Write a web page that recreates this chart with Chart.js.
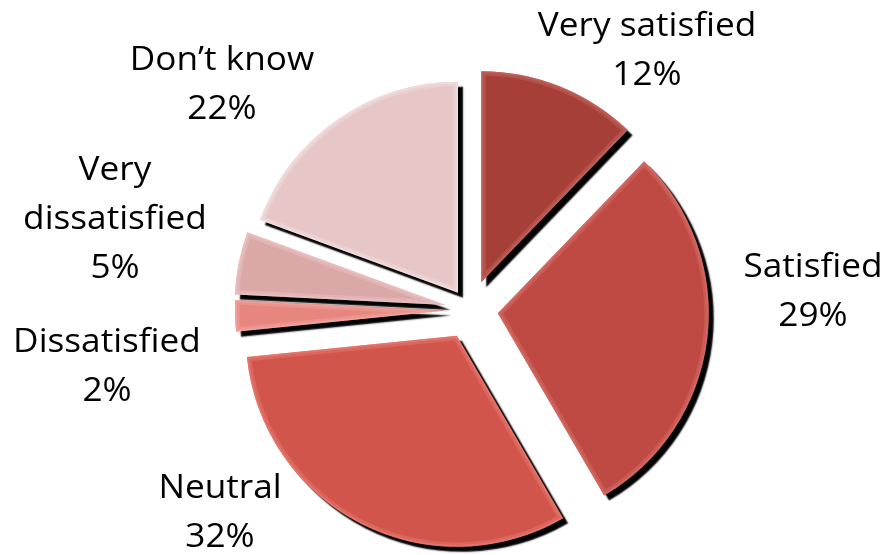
<!DOCTYPE html>
<html>
<head>
<meta charset="utf-8">
<script src="https://cdn.jsdelivr.net/npm/chart.js@4"></script>
<style>
  html, body { margin: 0; padding: 0; background: #fff; }
  #wrap { width: 889px; height: 555px; }
</style>
</head>
<body>
<div id="wrap"><canvas id="pieChart" width="889" height="555"></canvas></div>
<script>
// survey answers, clockwise from 12 o'clock
const categories = ['Very satisfied', 'Satisfied', 'Neutral', 'Dissatisfied', 'Very dissatisfied', "Don\u2019t know"];
// slice sizes as drawn in the picture (in %)
const sliceValues = [12.2, 29.4, 31.8, 2.4, 4.8, 19.4];
// percentages printed on the labels
const labelPercents = [12, 29, 32, 2, 5, 22];
// label text lines (category name may wrap)
const labelLines = [
    ['Very satisfied'],
    ['Satisfied'],
    ['Neutral'],
    ['Dissatisfied'],
    ['Very', 'dissatisfied'],
    ['Don\u2019t know']
];

const sliceColors = ['#a73f39', '#bf4a44', '#d2554c', '#e6867f', '#dba8a8', '#e6c6c6'];
const edgeColors = ['#d27a74', '#e2817b', '#f08e86', '#f8b6b0', '#f2d0d0', '#faeaea'];
// how far each slice is pulled out from the centre
const explode = [30, 28, 29, 24, 25, 21];
// where each label block is centred (x) and its first baseline (y)
const labelPos = [[647, 36], [813, 277], [220, 498], [107, 352], [115, 180], [222, 70]];
const lineGap = 49;

// draws the exploded slices with a black drop shadow and a light bevel
const slicePlugin = {
    id: 'explodedSlices',
    beforeDatasetsDraw(chart) {
        const ctx = chart.ctx;
        const meta = chart.getDatasetMeta(0);
        meta.data.forEach((arc, i) => {
            const mid = (arc.startAngle + arc.endAngle) / 2;
            const dx = Math.cos(mid) * explode[i];
            const dy = Math.sin(mid) * explode[i];
            ctx.save();
            ctx.translate(dx, dy);
            ctx.shadowColor = '#000';
            ctx.shadowBlur = 1.5;
            ctx.shadowOffsetX = 5;
            ctx.shadowOffsetY = 5;
            arc.draw(ctx);
            ctx.restore();

            // bevel: lighter band just inside the slice edge
            ctx.save();
            ctx.translate(dx, dy);
            ctx.beginPath();
            ctx.moveTo(arc.x, arc.y);
            ctx.arc(arc.x, arc.y, arc.outerRadius, arc.startAngle, arc.endAngle);
            ctx.closePath();
            ctx.clip();
            ctx.lineJoin = 'miter';
            ctx.strokeStyle = edgeColors[i];
            ctx.globalAlpha = 0.3;
            ctx.lineWidth = 9;
            ctx.stroke();
            ctx.globalAlpha = 0.35;
            ctx.lineWidth = 4;
            ctx.stroke();
            ctx.restore();
        });
        return false;
    }
};

const labelPlugin = {
    id: 'sliceLabels',
    afterDraw(chart) {
        const ctx = chart.ctx;
        ctx.save();
        ctx.fillStyle = '#000';
        ctx.textAlign = 'center';
        ctx.textBaseline = 'alphabetic';
        ctx.font = '32px "Open Sans"';
        labelLines.forEach((lines, i) => {
            const [x, y] = labelPos[i];
            const all = lines.concat([labelPercents[i] + '%']);
            all.forEach((t, k) => {
                ctx.save();
                ctx.translate(x, y + k * lineGap);
                ctx.scale(1.1, 1.0);
                ctx.fillText(t, 0, 0);
                ctx.restore();
            });
        });
        ctx.restore();
    }
};

const ctx = document.getElementById('pieChart').getContext('2d');
const pieChart = new Chart(ctx, {
    type: 'pie',
    data: {
        labels: categories,
        datasets: [{
            data: sliceValues,
            backgroundColor: sliceColors,
            borderWidth: 0,
            clip: false
        }]
    },
    options: {
        responsive: false,
        animation: false,
        layout: { padding: { left: 259, right: 208, top: 99, bottom: 34 } },
        plugins: {
            legend: { display: false },
            tooltip: { enabled: false }
        }
    },
    plugins: [slicePlugin, labelPlugin]
});
</script>
</body>
</html>
